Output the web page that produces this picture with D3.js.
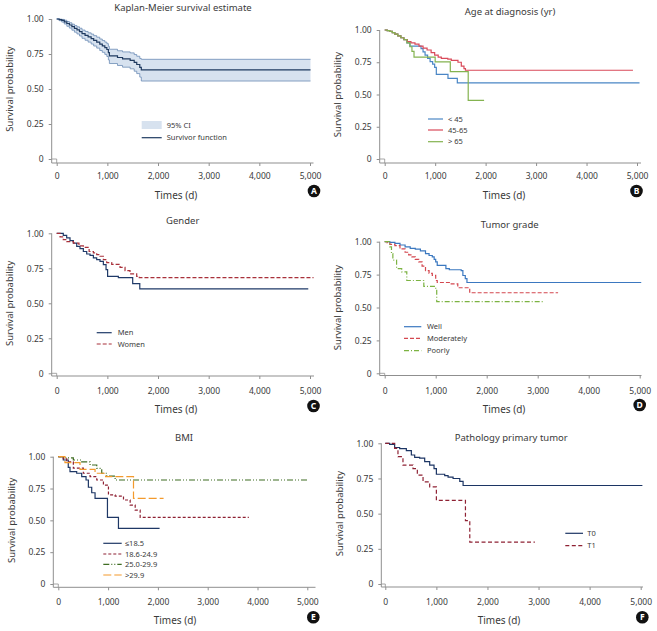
<!DOCTYPE html>
<html><head><meta charset="utf-8">
<script src="https://cdn.jsdelivr.net/npm/d3@7"></script>
<style>
body{margin:0;background:#fff;}
text{font-family:"Noto Sans",sans-serif;}
</style>
</head><body>
<svg id="c" width="657" height="631"></svg>
<script>
// ---------- tick labels ----------
const xTicks = [0, 1000, 2000, 3000, 4000, 5000];
const xTickLabels = ["0", "1,000", "2,000", "3,000", "4,000", "5,000"];
const yTicks = [0, 0.25, 0.5, 0.75, 1];
const yTickLabels = ["0", "0.25", "0.50", "0.75", "1.00"];

// ---------- A: overall KM with 95% CI ----------
const kmTime  = [0,50,100,150,200,250,300,350,400,450,500,560,620,680,730,790,850,900,950,990,1020,1040,1200,1300,1450,1530,1580,1640,1670,5010];
const kmSurv  = [1,0.995,0.99,0.98,0.968,0.957,0.945,0.933,0.922,0.91,0.895,0.883,0.872,0.86,0.848,0.835,0.82,0.808,0.795,0.782,0.76,0.737,0.725,0.715,0.705,0.69,0.675,0.655,0.636,0.636];
const kmLower = [1,0.988,0.978,0.964,0.948,0.935,0.92,0.906,0.893,0.879,0.862,0.848,0.835,0.821,0.807,0.792,0.775,0.762,0.747,0.732,0.708,0.682,0.668,0.656,0.644,0.627,0.61,0.585,0.557,0.557];
const kmUpper = [1,0.999,0.997,0.991,0.982,0.973,0.963,0.953,0.944,0.934,0.921,0.911,0.901,0.892,0.881,0.87,0.857,0.846,0.835,0.824,0.805,0.784,0.773,0.765,0.758,0.746,0.734,0.718,0.712,0.712];

// ---------- B: age at diagnosis ----------
const ageLabels = ["< 45", "45-65", "> 65"];
const ageLt45Time = [0,50,100,150,200,260,320,380,440,500,720,760,800,850,900,950,990,1023,1254,1439,5050];
const ageLt45Surv = [1,0.995,0.99,0.98,0.968,0.955,0.94,0.925,0.9,0.875,0.855,0.83,0.806,0.78,0.755,0.735,0.71,0.656,0.625,0.59,0.59];
const age4565Time = [0,50,100,150,200,260,320,380,450,520,600,680,760,840,920,990,1060,1122,1250,1320,1452,1518,1571,1600,4920];
const age4565Surv = [1,0.995,0.99,0.98,0.968,0.955,0.94,0.925,0.91,0.9,0.89,0.875,0.86,0.845,0.825,0.805,0.79,0.78,0.775,0.765,0.75,0.72,0.70,0.688,0.688];
const ageGt65Time = [0,50,100,150,200,260,320,380,440,500,540,581,1000,1300,1655,1970];
const ageGt65Surv = [1,0.995,0.99,0.98,0.968,0.955,0.94,0.925,0.9,0.87,0.835,0.79,0.753,0.678,0.455,0.455];

// ---------- C: gender ----------
const genderLabels = ["Men", "Women"];
const menTime   = [0,130,197,263,329,395,460,526,592,658,724,789,855,921,974,1005,1217,1500,1640,4966];
const menSurv   = [1,0.985,0.968,0.948,0.93,0.907,0.89,0.87,0.852,0.843,0.824,0.812,0.8,0.776,0.74,0.692,0.683,0.64,0.603,0.603];
const womenTime = [0,66,130,200,330,440,526,640,724,790,855,921,987,1086,1250,1349,1447,1579,1630,5070];
const womenSurv = [1,0.975,0.955,0.94,0.93,0.91,0.9,0.87,0.86,0.848,0.836,0.812,0.79,0.778,0.757,0.733,0.71,0.693,0.684,0.684];

// ---------- D: tumor grade ----------
const gradeLabels = ["Well", "Moderately", "Poorly"];
const wellTime  = [0,100,200,300,400,500,600,700,800,870,933,970,1000,1030,1200,1267,1500,1533,1580,1613,5030];
const wellSurv  = [1,0.995,0.987,0.975,0.96,0.95,0.944,0.93,0.91,0.895,0.885,0.865,0.846,0.82,0.795,0.787,0.78,0.743,0.72,0.69,0.69];
const modTime   = [0,50,100,200,300,400,470,533,600,667,733,800,870,933,1000,1030,1267,1433,1667,3400];
const modSurv   = [1,0.99,0.98,0.97,0.945,0.92,0.9,0.885,0.865,0.846,0.815,0.78,0.76,0.744,0.705,0.69,0.68,0.65,0.612,0.612];
const poorTime  = [0,100,133,160,233,333,433,767,1000,1020,3100];
const poorSurv  = [1,0.96,0.91,0.86,0.795,0.77,0.705,0.66,0.64,0.544,0.544];

// ---------- E: BMI ----------
const bmiLabels = ["\u226418.5", "18.6-24.9", "25.0-29.9", ">29.9"];
const bmi1Time = [0,100,200,235,369,470,557,604,671,738,987,1208,2034];
const bmi1Surv = [1,0.974,0.916,0.882,0.87,0.843,0.817,0.76,0.717,0.673,0.524,0.437,0.437];
const bmi2Time = [0,100,168,302,503,638,772,906,1007,1141,1309,1443,1544,1644,3826];
const bmi2Surv = [1,0.985,0.96,0.91,0.87,0.843,0.817,0.777,0.70,0.69,0.66,0.62,0.58,0.524,0.524];
const bmi3Time = [0,150,302,470,638,772,872,973,1141,5034];
const bmi3Surv = [1,0.99,0.974,0.96,0.935,0.908,0.87,0.848,0.817,0.817];
const bmi4Time = [0,134,436,738,950,1510,2114];
const bmi4Surv = [1,0.953,0.9,0.87,0.843,0.673,0.673];

// ---------- F: pathology primary tumor ----------
const pathLabels = ["T0", "T1"];
const t0Time = [0,85,183,281,412,510,575,673,771,869,954,1000,1163,1229,1327,1458,1523,5033];
const t0Surv = [1,0.993,0.97,0.962,0.948,0.917,0.9,0.895,0.87,0.845,0.82,0.78,0.77,0.76,0.75,0.73,0.70,0.70];
const t1Time = [0,150,183,248,346,542,627,739,869,1000,1569,1654,2928];
const t1Surv = [1,1,0.964,0.905,0.845,0.82,0.774,0.726,0.69,0.595,0.45,0.298,0.298];

const zip = (t, s) => t.map((v, i) => [v, s[i]]);

// ---------- layout (positions / styles) ----------
const AXIS = "#8f8f8f", TXT = "#3a3a3a";
const panels = [
  {title:"Kaplan-Meier survival estimate", tx:183, ty:8,
   axisX:51.7, x0:56.7, x1:310, y1:19, y0:159, axisY:163, axisR:313.5, tickY:176,
   xtX:176, xtY:195, ytX:10, letter:"A", lx:314, ly:191,
   series:[], ci:true,
   legend:{x1:141.7, x2:161.7, tx:166.7, ys:[125,137.7]}},
  {title:"Age at diagnosis (yr)", tx:510, ty:12,
   axisX:379.7, x0:384.7, x1:637, y1:30, y0:159, axisY:163, axisR:641, tickY:176,
   xtX:504, xtY:195, ytX:338, letter:"B", lx:636.5, ly:191,
   series:[
     {d:zip(ageLt45Time, ageLt45Surv), c:"#4a86c5", dash:null, label:ageLabels[0]},
     {d:zip(age4565Time, age4565Surv), c:"#d94a5a", dash:null, label:ageLabels[1]},
     {d:zip(ageGt65Time, ageGt65Surv), c:"#84b350", dash:null, label:ageLabels[2]}],
   legend:{x1:428, x2:443, tx:448, ys:[119,130,141.7]}},
  {title:"Gender", tx:182.7, ty:220.7,
   axisX:51.7, x0:56.7, x1:310, y1:233.3, y0:373.3, axisY:376, axisR:314, tickY:390.7,
   xtX:176, xtY:409, ytX:10, letter:"C", lx:313.5, ly:406,
   series:[
     {d:zip(menTime, menSurv), c:"#1f3a68", dash:null, label:genderLabels[0]},
     {d:zip(womenTime, womenSurv), c:"#a8303a", dash:"4,2", label:genderLabels[1]}],
   legend:{x1:96.7, x2:111.7, tx:117.7, ys:[332.7,344]}},
  {title:"Tumor grade", tx:509.7, ty:225,
   axisX:379.7, x0:384.7, x1:639.7, y1:241.7, y0:373.3, axisY:375.5, axisR:641.5, tickY:390.7,
   xtX:504, xtY:409, ytX:338, letter:"D", lx:639.7, ly:405,
   series:[
     {d:zip(wellTime, wellSurv), c:"#3b78c0", dash:null, label:gradeLabels[0]},
     {d:zip(modTime, modSurv), c:"#d4474f", dash:"4,2", label:gradeLabels[1]},
     {d:zip(poorTime, poorSurv), c:"#7cb342", dash:"5,2,1,2", label:gradeLabels[2]}],
   legend:{x1:404, x2:421.3, tx:427, ys:[326.7,338.3,350.7]}},
  {title:"BMI", tx:184, ty:437.3,
   axisX:53.3, x0:58.3, x1:307.3, y1:456.7, y0:584, axisY:587.3, axisR:315.5, tickY:601.7,
   xtX:175, xtY:620, ytX:11.7, letter:"E", lx:313.3, ly:617.3,
   series:[
     {d:zip(bmi1Time, bmi1Surv), c:"#1e3765", dash:null, label:bmiLabels[0]},
     {d:zip(bmi2Time, bmi2Surv), c:"#8e2133", dash:"3,2", label:bmiLabels[1]},
     {d:zip(bmi3Time, bmi3Surv), c:"#3f6d22", dash:"6,2,1,2,1,2", label:bmiLabels[2]},
     {d:zip(bmi4Time, bmi4Surv), c:"#f39a2c", dash:"8,3", label:bmiLabels[3]}],
   legend:{x1:103.3, x2:121.7, tx:125, ys:[543.3,554,564.3,575]}},
  {title:"Pathology primary tumor", tx:511.3, ty:437.3,
   axisX:381.3, x0:385.3, x1:640.7, y1:443.3, y0:584, axisY:587, axisR:643, tickY:601.7,
   xtX:499, xtY:620, ytX:339.7, letter:"F", lx:642.3, ly:617.3,
   series:[
     {d:zip(t0Time, t0Surv), c:"#1c3564", dash:null, label:pathLabels[0]},
     {d:zip(t1Time, t1Surv), c:"#8e2133", dash:"4,2.5", label:pathLabels[1]}],
   legend:{x1:565.3, x2:583, tx:587.3, ys:[533.3,545.7]}}
];

const svg = d3.select("#c");

panels.forEach(p => {
  const g = svg.append("g");
  const x = d3.scaleLinear().domain([0, 5000]).range([p.x0, p.x1]);
  const y = d3.scaleLinear().domain([0, 1]).range([p.y0, p.y1]);

  // title
  g.append("text").attr("x", p.tx).attr("y", p.ty).attr("text-anchor", "middle")
    .attr("dy", "0.35em").attr("font-size", 9.5).attr("fill", TXT).text(p.title);

  // axes
  const xa = g.append("g").attr("transform", `translate(0,${p.axisY})`)
    .call(d3.axisBottom(x).tickValues(xTicks).tickFormat((d, i) => xTickLabels[i]).tickSize(3));
  xa.select(".domain").remove();
  xa.selectAll("line").attr("stroke", AXIS);
  xa.selectAll("text").attr("y", p.tickY - p.axisY).attr("dy", "0.35em")
    .attr("font-size", 8.5).attr("fill", TXT).style("font-family", "Noto Sans");
  g.append("line").attr("x1", p.axisX).attr("x2", p.axisR).attr("y1", p.axisY).attr("y2", p.axisY)
    .attr("stroke", AXIS).attr("stroke-width", 1);

  const ya = g.append("g").attr("transform", `translate(${p.axisX},0)`)
    .call(d3.axisLeft(y).tickValues(yTicks).tickFormat((d, i) => yTickLabels[i]).tickSize(3).tickPadding(5));
  ya.select(".domain").remove();
  ya.selectAll("line").attr("stroke", AXIS);
  ya.selectAll("text").attr("font-size", 8.5).attr("fill", TXT).style("font-family", "Noto Sans");
  g.append("line").attr("x1", p.axisX).attr("x2", p.axisX).attr("y1", p.y1).attr("y2", p.axisY)
    .attr("stroke", AXIS).attr("stroke-width", 1);
  // small corner mark at origin
  g.append("path").attr("d", `M${p.axisX},${y(0)}H${x(0)}V${p.axisY}`)
    .attr("fill", "none").attr("stroke", AXIS).attr("stroke-width", 0.8);

  // axis titles
  g.append("text").attr("x", p.xtX).attr("y", p.xtY).attr("text-anchor", "middle").attr("dy", "0.35em")
    .attr("font-size", 10).attr("fill", TXT).text("Times (d)");
  g.append("text").attr("transform", `translate(${p.ytX},${(p.y1 + p.y0) / 2}) rotate(-90)`)
    .attr("text-anchor", "middle").attr("dy", "0.35em").attr("font-size", 9.5).attr("fill", TXT)
    .text("Survival probability");

  const line = d3.line().x(d => x(d[0])).y(d => y(d[1])).curve(d3.curveStepAfter);

  if (p.ci) {
    const ciData = kmTime.map((t, i) => ({t, lo: kmLower[i], hi: kmUpper[i]}));
    const area = d3.area().x(d => x(d.t)).y0(d => y(d.lo)).y1(d => y(d.hi)).curve(d3.curveStepAfter);
    g.append("path").datum(ciData).attr("d", area).attr("fill", "#d7e2ef");
    g.append("path").datum(zip(kmTime, kmLower)).attr("d", line).attr("fill", "none")
      .attr("stroke", "#6b8bb5").attr("stroke-width", 0.8);
    g.append("path").datum(zip(kmTime, kmUpper)).attr("d", line).attr("fill", "none")
      .attr("stroke", "#6b8bb5").attr("stroke-width", 0.8);
    g.append("path").datum(zip(kmTime, kmSurv)).attr("d", line).attr("fill", "none")
      .attr("stroke", "#1f3a60").attr("stroke-width", 1.2);
    // legend
    const L = p.legend;
    g.append("rect").attr("x", L.x1).attr("y", L.ys[0] - 4).attr("width", L.x2 - L.x1).attr("height", 8)
      .attr("fill", "#d7e2ef");
    g.append("text").attr("x", L.tx).attr("y", L.ys[0]).attr("dy", "0.35em").attr("font-size", 7.5)
      .attr("fill", TXT).text("95% CI");
    g.append("line").attr("x1", L.x1).attr("x2", L.x2).attr("y1", L.ys[1]).attr("y2", L.ys[1])
      .attr("stroke", "#1f3a60").attr("stroke-width", 1.2);
    g.append("text").attr("x", L.tx).attr("y", L.ys[1]).attr("dy", "0.35em").attr("font-size", 7.5)
      .attr("fill", TXT).text("Survivor function");
  }

  p.series.forEach((s, i) => {
    g.append("path").datum(s.d).attr("d", line).attr("fill", "none")
      .attr("stroke", s.c).attr("stroke-width", 1.2).attr("stroke-dasharray", s.dash);
    const L = p.legend;
    g.append("line").attr("x1", L.x1).attr("x2", L.x2).attr("y1", L.ys[i]).attr("y2", L.ys[i])
      .attr("stroke", s.c).attr("stroke-width", 1.2).attr("stroke-dasharray", s.dash);
    g.append("text").attr("x", L.tx).attr("y", L.ys[i]).attr("dy", "0.35em").attr("font-size", 7.5)
      .attr("fill", TXT).text(s.label);
  });

  // panel letter
  g.append("circle").attr("cx", p.lx).attr("cy", p.ly).attr("r", 6.3).attr("fill", "#111");
  g.append("text").attr("x", p.lx).attr("y", p.ly).attr("dy", "0.36em").attr("text-anchor", "middle")
    .attr("font-size", 8.5).attr("font-weight", "bold").attr("fill", "#fff").text(p.letter);
});
</script>
</body></html>
